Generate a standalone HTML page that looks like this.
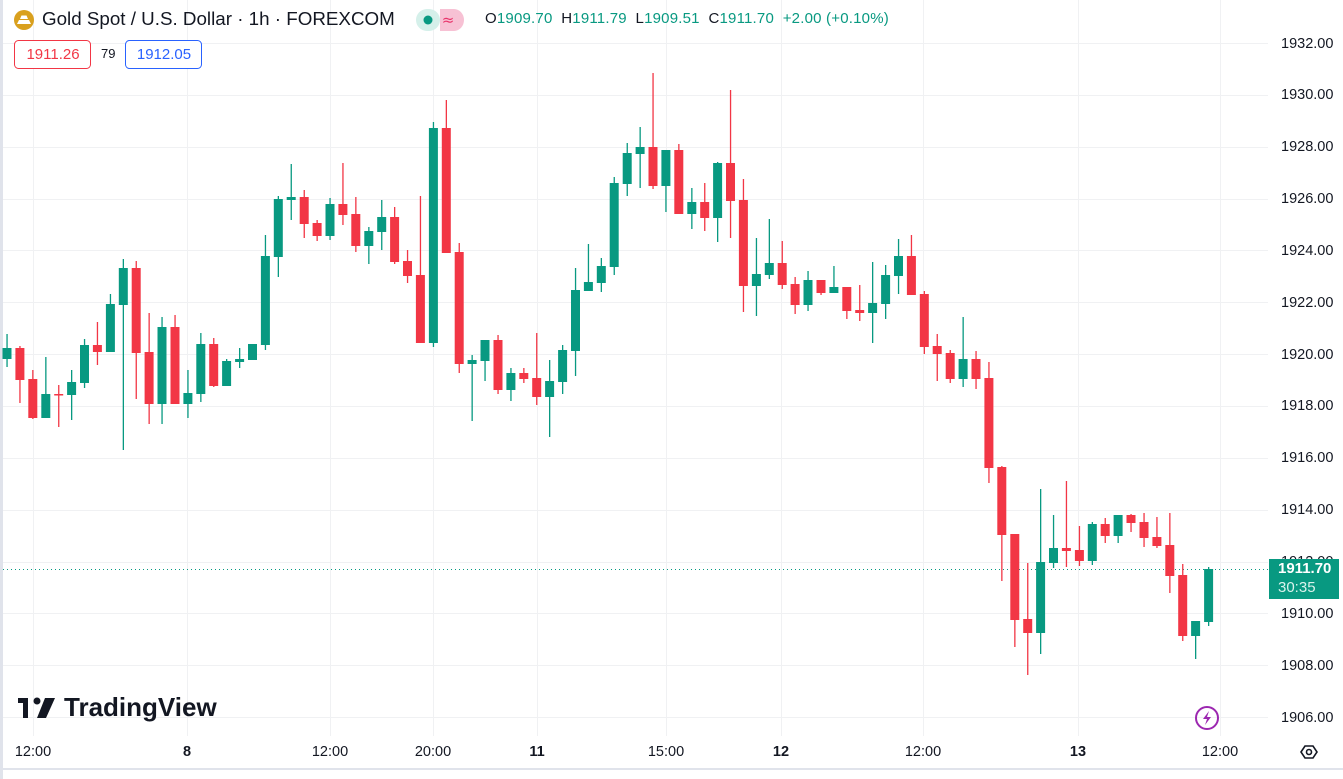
<!DOCTYPE html>
<html><head><meta charset="utf-8"><style>
html,body{margin:0;padding:0;background:#fff;}
body{width:1343px;height:779px;position:relative;overflow:hidden;font-family:"Liberation Sans","DejaVu Sans",sans-serif;}
.t{position:absolute;white-space:nowrap;}
</style></head><body>
<svg id="c" width="1343" height="779" style="position:absolute;left:0;top:0">
<rect x="0" y="0" width="3" height="779" fill="#e0e3eb"/>
<rect x="0" y="768" width="1343" height="2" fill="#e0e3eb"/>
<g id="grid" stroke="#f0f1f3" stroke-width="1"></g>
<line x1="3" y1="569.5" x2="1268" y2="569.5" stroke="#089981" stroke-width="1" stroke-dasharray="1,3"/>
<g id="candles"></g>
<circle cx="1207" cy="718" r="11" fill="none" stroke="#9c27b0" stroke-width="2"/>
<path d="M1209 711 L1203 719 L1207 719 L1205 725 L1211 717 L1207 717 Z" fill="#9c27b0"/>
<path d="M1301 752 L1305 746 L1313 746 L1317 752 L1313 758 L1305 758 Z" fill="none" stroke="#131722" stroke-width="1.6"/>
<circle cx="1309" cy="752" r="2.5" fill="none" stroke="#131722" stroke-width="1.6"/>
<circle cx="24" cy="20" r="10" fill="#d9a01e"/>
<path d="M17 24 h14 l-2 -4 h-10z M20 19 h8 l-1.5 -3.5 h-5z" fill="#fff"/>
<rect x="416" y="9" width="24" height="22" rx="11" fill="#d5f0ea"/>
<circle cx="428" cy="20" r="4.5" fill="#089981"/>
<path d="M440 9 h14 a10 11 0 0 1 0 22 h-14z" fill="#f7c1d4"/>
<text x="448" y="25" font-size="15" fill="#e8336a" text-anchor="middle" font-family="DejaVu Sans">≈</text>
<rect x="14.5" y="40.5" width="76" height="28" rx="4" fill="#fff" stroke="#f23645"/>
<rect x="125.5" y="40.5" width="76" height="28" rx="4" fill="#fff" stroke="#2962ff"/>
<rect x="18" y="698" width="10" height="5" fill="#131722"/><rect x="23" y="698" width="5" height="20" fill="#131722"/>
<circle cx="37" cy="701" r="3.5" fill="#131722"/>
<path d="M45 698 h10 l-9 20 h-9 z" fill="#131722"/>
</svg>
<div class="t" style="left:42px;top:8px;font-size:18.8px;color:#131722;">Gold Spot / U.S. Dollar · 1h · FOREXCOM</div>
<div class="t" style="left:485px;top:10px;font-size:15px;letter-spacing:0.2px;color:#089981;"><span style="color:#131722">O</span>1909.70 &nbsp;<span style="color:#131722">H</span>1911.79 &nbsp;<span style="color:#131722">L</span>1909.51 &nbsp;<span style="color:#131722">C</span>1911.70 &nbsp;+2.00 (+0.10%)</div>
<div class="t" style="left:14px;top:46px;width:78px;text-align:center;font-size:15px;color:#f23645;">1911.26</div>
<div class="t" style="left:101px;top:46px;font-size:13px;color:#131722;">79</div>
<div class="t" style="left:125px;top:46px;width:78px;text-align:center;font-size:15px;color:#2962ff;">1912.05</div>
<div class="t" style="left:64px;top:692px;font-size:26px;font-weight:bold;color:#131722;">TradingView</div>
<div id="ax"></div>
<div style="position:absolute;left:1269px;top:559px;width:70px;height:40px;background:#089981"></div>
<div class="t" style="left:1278px;top:560px;font-size:15px;font-weight:bold;color:#fff;">1911.70</div>
<div class="t" style="left:1278px;top:579px;font-size:15px;color:#d9f2ec;">30:35</div>
<script>
var svgNS="http://www.w3.org/2000/svg";
var g=document.getElementById('grid'),ax=document.getElementById('ax');
var h='';
for(var i=0;i<14;i++){var y=43+i*51.85;var p=(1932-2*i).toFixed(2);
 var l=document.createElementNS(svgNS,'line');l.setAttribute('x1',3);l.setAttribute('x2',1268);l.setAttribute('y1',Math.round(y)+.5);l.setAttribute('y2',Math.round(y)+.5);g.appendChild(l);
 h+='<div class="t" style="left:1281px;top:'+(y-7.5)+'px;font-size:14.5px;color:#131722">'+p+'</div>';}
var vx=[[33,'12:00'],[187,'8'],[330,'12:00'],[433,'20:00'],[537,'11'],[666,'15:00'],[781,'12'],[923,'12:00'],[1078,'13'],[1220,'12:00']];
vx.forEach(function(v){var l=document.createElementNS(svgNS,'line');l.setAttribute('x1',v[0]+.5);l.setAttribute('x2',v[0]+.5);l.setAttribute('y1',0);l.setAttribute('y2',736);g.appendChild(l);
 var b=(v[1]=='8'||v[1]=='11'||v[1]=='12'||v[1]=='13');
 h+='<div class="t" style="left:'+(v[0]-40)+'px;width:80px;text-align:center;top:744px;font-size:14.5px;color:#131722;'+(b?'font-weight:bold':'')+'">'+v[1]+'</div>';});
ax.innerHTML=h;
var d=[
[334,348,359,367,'g'],[346,348,380,403,'r'],[370,379,418,419,'r'],[357,394,418,418,'g'],[385,394,395,427,'r'],
[370,382,395,420,'g'],[339,345,383,388,'g'],[322,345,352,365,'r'],[294,304,352,352,'g'],[259,268,305,450,'g'],
[261,268,353,399,'r'],[313,352,404,424,'r'],[317,327,404,424,'g'],[315,327,404,404,'r'],[370,393,404,418,'g'],
[333,344,394,402,'g'],[338,344,386,387,'r'],[359,361,386,386,'g'],[348,359,362,368,'g'],[344,344,360,360,'g'],
[235,256,345,350,'g'],[196,199,257,277,'g'],[164,197,200,220,'g'],[190,197,224,238,'r'],[220,223,236,241,'r'],
[198,204,236,240,'g'],[163,204,215,225,'r'],[197,214,246,252,'r'],[227,231,246,264,'g'],[200,217,232,250,'g'],
[207,217,262,264,'r'],[250,261,276,283,'r'],[196,275,343,343,'r'],[122,128,343,347,'g'],[100,128,253,253,'r'],
[243,252,364,373,'r'],[355,360,364,421,'g'],[340,340,361,381,'g'],[335,340,390,394,'r'],[368,373,390,401,'g'],
[368,373,379,383,'r'],[333,378,397,405,'r'],[360,381,397,437,'g'],[345,350,382,394,'g'],[268,290,351,376,'g'],
[244,282,291,291,'g'],[258,266,283,292,'g'],[177,183,267,275,'g'],[143,153,184,196,'g'],[127,147,154,188,'g'],
[73,147,186,189,'r'],[150,150,186,212,'g'],[144,150,214,214,'r'],[188,202,214,229,'g'],[183,202,218,231,'r'],
[162,163,218,242,'g'],[90,163,201,238,'r'],[179,200,286,312,'r'],[238,274,286,316,'g'],[219,263,275,279,'g'],
[241,263,285,289,'r'],[277,284,305,314,'r'],[271,280,305,311,'g'],[280,280,293,295,'r'],[266,287,293,293,'g'],
[287,287,311,319,'r'],[285,310,313,321,'r'],[262,303,313,343,'g'],[265,275,304,319,'g'],[239,256,276,294,'g'],
[235,256,295,295,'r'],[291,294,347,354,'r'],[334,346,354,381,'r'],[350,353,379,383,'r'],[317,359,379,387,'g'],
[351,359,379,389,'r'],[362,378,468,483,'r'],[466,467,535,581,'r'],[534,534,620,647,'r'],[563,619,633,675,'r'],
[489,562,633,654,'g'],[515,548,563,568,'g'],[481,548,551,567,'r'],[526,550,561,566,'r'],[522,524,561,565,'g'],
[518,524,536,543,'r'],[515,515,536,543,'g'],[514,515,523,532,'r'],[513,522,538,547,'r'],[517,537,546,548,'r'],
[513,545,576,593,'r'],[564,575,636,641,'r'],[621,621,636,659,'g'],[567,569,622,626,'g']];
var cg=document.getElementById('candles');
d.forEach(function(c,i){var x=7+12.92*i,col=c[4]=='g'?'#089981':'#f23645';
 var w=document.createElementNS(svgNS,'rect');w.setAttribute('x',(x-0.6).toFixed(1));w.setAttribute('width',1.3);w.setAttribute('y',c[0]);w.setAttribute('height',Math.max(1,c[3]-c[0]));w.setAttribute('fill',col);cg.appendChild(w);
 var b=document.createElementNS(svgNS,'rect');b.setAttribute('x',(x-4.5).toFixed(1));b.setAttribute('width',9);b.setAttribute('y',c[1]);b.setAttribute('height',Math.max(1.5,c[2]-c[1]));b.setAttribute('fill',col);cg.appendChild(b);});
</script>
</body></html>
